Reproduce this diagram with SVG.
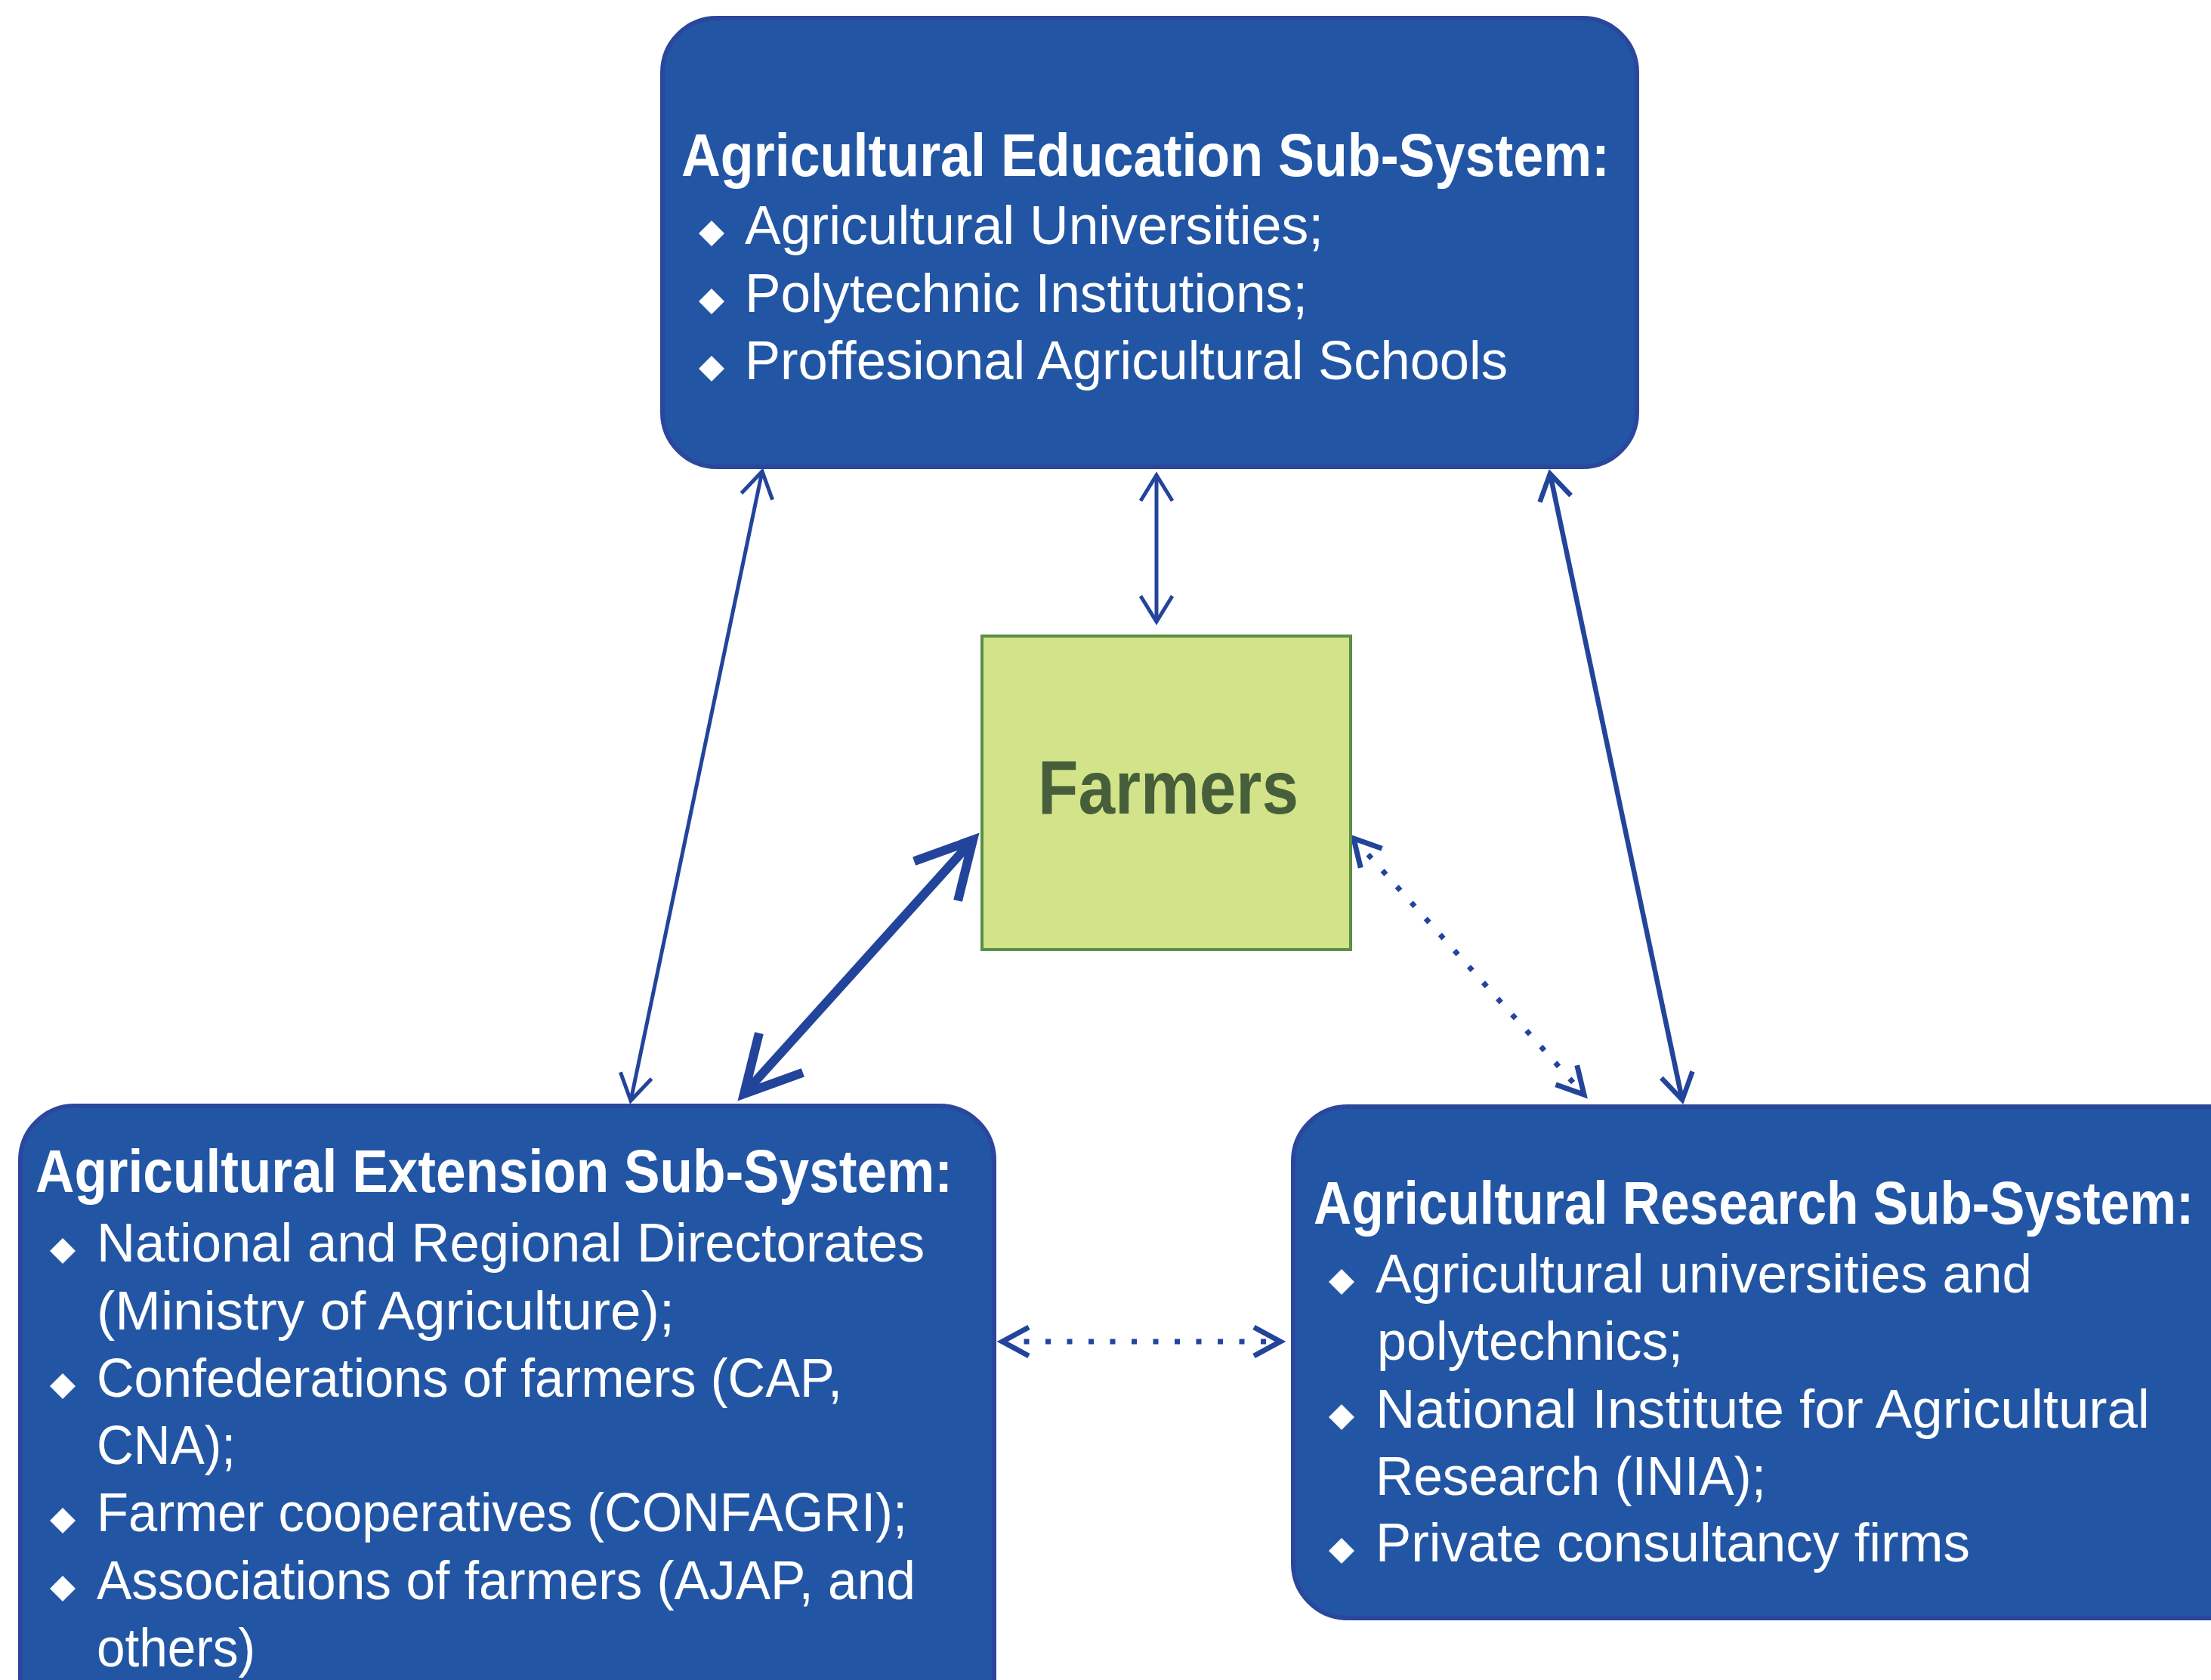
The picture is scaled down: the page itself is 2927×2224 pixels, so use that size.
<svg xmlns="http://www.w3.org/2000/svg" width="2927" height="2224" viewBox="0 0 2927 2224">
<style>
.box{fill:#2256A5;stroke:#2A479D;stroke-width:6}
.farm{fill:#D3E38A;stroke:#5A8F45;stroke-width:4}
.t{font-family:"Liberation Sans",Arial,sans-serif;font-weight:bold;font-size:80px;fill:#FFFFFF}
.b{font-family:"Liberation Sans",Arial,sans-serif;font-size:72px;fill:#FFFFFF}
.f{font-family:"Liberation Sans",Arial,sans-serif;font-weight:bold;font-size:100px;fill:#465E39}
.dia{fill:#FFFFFF}
.c{fill:none;stroke:#23449B}
.thin{stroke-width:5;marker-start:url(#mThin);marker-end:url(#mThin)}
.med{stroke-width:6.5;marker-start:url(#mMed);marker-end:url(#mMed)}
.thick{stroke-width:12;marker-start:url(#mThick);marker-end:url(#mThick)}
.dot{stroke-width:7;stroke-dasharray:7 21.5;marker-start:url(#mDot);marker-end:url(#mDot)}
</style>
<defs>
<marker id="mThin" markerUnits="userSpaceOnUse" orient="auto-start-reverse" refX="0" refY="0" markerWidth="100" markerHeight="100" viewBox="-50 -50 100 100" overflow="visible">
<path d="M-34,-21 L0,0 L-34,21" fill="none" stroke="#23449B" stroke-width="5"/>
</marker>
<marker id="mMed" markerUnits="userSpaceOnUse" orient="auto-start-reverse" refX="0" refY="0" markerWidth="100" markerHeight="100" viewBox="-50 -50 100 100" overflow="visible">
<path d="M-34,-21 L0,0 L-34,21" fill="none" stroke="#23449B" stroke-width="6.5"/>
</marker>
<marker id="mThick" markerUnits="userSpaceOnUse" orient="auto-start-reverse" refX="0" refY="0" markerWidth="200" markerHeight="200" viewBox="-100 -100 200 200" overflow="visible">
<path d="M-73,-39 L0,0 L-73,39" fill="none" stroke="#23449B" stroke-width="12"/>
</marker>
<marker id="mDot" markerUnits="userSpaceOnUse" orient="auto-start-reverse" refX="0" refY="0" markerWidth="100" markerHeight="100" viewBox="-50 -50 100 100" overflow="visible">
<path d="M-35,-19 L0,0 L-35,19" fill="none" stroke="#23449B" stroke-width="7"/>
</marker>
<polygon id="diamond" points="0,-17 17,0 0,17 -17,0"/>
</defs>

<g id="connectors">
<line class="c thin" x1="1009" y1="624" x2="835" y2="1457"/>
<line class="c thin" x1="1531" y1="629" x2="1531" y2="823"/>
<line class="c med" x1="2052" y1="627" x2="2227" y2="1456"/>
<line class="c thick" x1="1288" y1="1112" x2="985" y2="1448"/>
<line class="c dot" x1="1792" y1="1110" x2="2097" y2="1449"/>
<line class="c dot" x1="1327" y1="1776" x2="1695" y2="1776"/>
</g>

<g id="education">
<rect class="box" x="877" y="24" width="1290" height="594" rx="72" ry="72"/>
<text class="t" x="902" y="233" textLength="1229" lengthAdjust="spacingAndGlyphs">Agricultural Education Sub-System:</text>
<use href="#diamond" class="dia" x="942" y="309"/>
<text class="b" x="986" y="323" textLength="766" lengthAdjust="spacingAndGlyphs">Agricultural Universities;</text>
<use href="#diamond" class="dia" x="942" y="399"/>
<text class="b" x="986" y="413" textLength="745" lengthAdjust="spacingAndGlyphs">Polytechnic Institutions;</text>
<use href="#diamond" class="dia" x="942" y="488"/>
<text class="b" x="986" y="502" textLength="1010" lengthAdjust="spacingAndGlyphs">Proffesional Agricultural Schools</text>
</g>

<g id="farmers">
<rect class="farm" x="1300" y="842" width="488" height="415"/>
<text class="f" x="1374" y="1077" textLength="345" lengthAdjust="spacingAndGlyphs">Farmers</text>
</g>

<g id="extension">
<rect class="box" x="27" y="1464" width="1289" height="900" rx="72" ry="72"/>
<text class="t" x="47" y="1578" textLength="1214" lengthAdjust="spacingAndGlyphs">Agricultural Extension Sub-System:</text>
<use href="#diamond" class="dia" x="83" y="1656"/>
<text class="b" x="128" y="1670" textLength="1096" lengthAdjust="spacingAndGlyphs">National and Regional Directorates</text>
<text class="b" x="128" y="1760" textLength="765" lengthAdjust="spacingAndGlyphs">(Ministry of Agriculture);</text>
<use href="#diamond" class="dia" x="83" y="1835"/>
<text class="b" x="128" y="1849" textLength="987" lengthAdjust="spacingAndGlyphs">Confederations of farmers (CAP,</text>
<text class="b" x="128" y="1938" textLength="184" lengthAdjust="spacingAndGlyphs">CNA);</text>
<use href="#diamond" class="dia" x="83" y="2013"/>
<text class="b" x="128" y="2027" textLength="1073" lengthAdjust="spacingAndGlyphs">Farmer cooperatives (CONFAGRI);</text>
<use href="#diamond" class="dia" x="83" y="2103"/>
<text class="b" x="128" y="2117" textLength="1084" lengthAdjust="spacingAndGlyphs">Associations of farmers (AJAP, and</text>
<text class="b" x="128" y="2206" textLength="210" lengthAdjust="spacingAndGlyphs">others)</text>
</g>

<g id="research">
<rect class="box" x="1712" y="1465" width="1300" height="677" rx="72" ry="72"/>
<text class="t" x="1739" y="1620" textLength="1165" lengthAdjust="spacingAndGlyphs">Agricultural Research Sub-System:</text>
<use href="#diamond" class="dia" x="1776" y="1697"/>
<text class="b" x="1821" y="1711" textLength="869" lengthAdjust="spacingAndGlyphs">Agricultural universities and</text>
<text class="b" x="1823" y="1800" textLength="405" lengthAdjust="spacingAndGlyphs">polytechnics;</text>
<use href="#diamond" class="dia" x="1776" y="1876"/>
<text class="b" x="1821" y="1890" textLength="1025" lengthAdjust="spacingAndGlyphs">National Institute for Agricultural</text>
<text class="b" x="1821" y="1979" textLength="517" lengthAdjust="spacingAndGlyphs">Research (INIA);</text>
<use href="#diamond" class="dia" x="1776" y="2053"/>
<text class="b" x="1821" y="2067" textLength="787" lengthAdjust="spacingAndGlyphs">Private consultancy firms</text>
</g>
</svg>
